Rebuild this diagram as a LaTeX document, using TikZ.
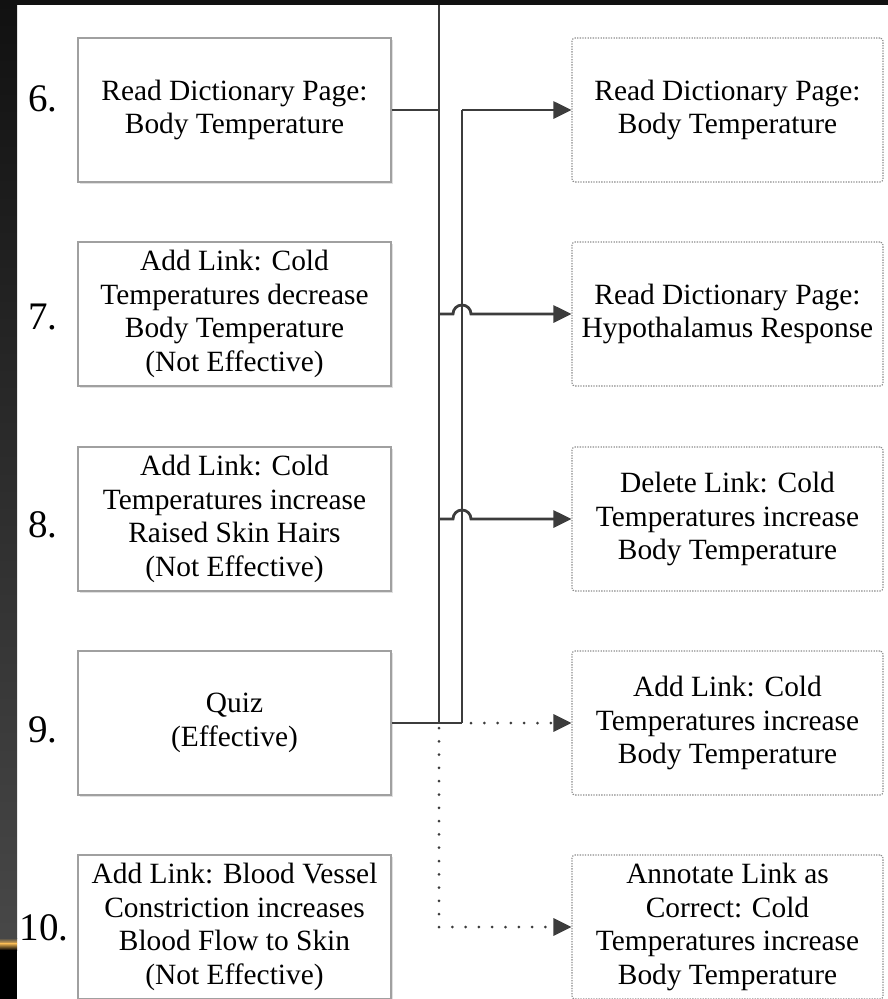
\documentclass[tikz,border=0pt]{standalone}
\usepackage{fontspec}
\setmainfont{Liberation Serif}
\usetikzlibrary{arrows.meta,shadows}
\definecolor{linec}{HTML}{3C3C3C}
\definecolor{boxc}{HTML}{A0A0A0}
\definecolor{dotc}{HTML}{8C8C8C}
\definecolor{barc}{HTML}{111111}
\definecolor{glow}{HTML}{E8B050}
\begin{document}
\begin{tikzpicture}[x=1pt,y=-1pt,
  txt/.style={font=\fontsize{29.4}{33.5}\selectfont, align=center, inner sep=0pt},
  lbox/.style={txt, draw=boxc, line width=1.4pt, fill=white,
    minimum width=313pt, minimum height=144pt,
    drop shadow={shadow xshift=2pt, shadow yshift=-2pt, fill=black!12, opacity=1}},
  rbox/.style={txt, draw=dotc, line width=1.1pt, dash pattern=on 1.3pt off 1.3pt,
    rounded corners=3pt, minimum width=311pt, minimum height=144pt},
  num/.style={font=\fontsize{39}{40}\selectfont, inner sep=0pt},
  conn/.style={draw=linec, line width=2.8pt},
  arr/.style={conn, -{Triangle[length=18pt,width=17pt]}},
  dconn/.style={draw=linec, line width=3pt, line cap=round,
    dash pattern=on 0pt off 13.3pt},
  darr/.style={dconn, -{Triangle[length=18pt,width=17pt,line cap=butt]}}
]
\useasboundingbox (0,0) rectangle (888,999);
\fill[white] (0,0) rectangle (888,999);
% left dark strip and top bar
\shade[top color=barc, bottom color=black!72] (0,0) rectangle (17,938);
\shade[top color=black!72, bottom color=glow] (0,938) rectangle (17,943.5);
\shade[top color=glow, bottom color=black] (0,943.5) rectangle (17,950);
\fill[black] (0,950) rectangle (17,999);

% left boxes
\node[lbox] (L6) at (234.5,110) {Read Dictionary Page:\\Body Temperature};
\node[lbox] (L7) at (234.5,314) {Add Link: Cold\\Temperatures decrease\\Body Temperature\\(Not Effective)};
\node[lbox] (L8) at (234.5,519) {Add Link: Cold\\Temperatures increase\\Raised Skin Hairs\\(Not Effective)};
\node[lbox] (L9) at (234.5,723) {Quiz\\(Effective)};
\node[lbox] (L10) at (234.5,927) {Add Link: Blood Vessel\\Constriction increases\\Blood Flow to Skin\\(Not Effective)};

% right boxes
\node[rbox] (R6) at (727.5,110) {Read Dictionary Page:\\Body Temperature};
\node[rbox] (R7) at (727.5,314) {Read Dictionary Page:\\Hypothalamus Response};
\node[rbox] (R8) at (727.5,519) {Delete Link: Cold\\Temperatures increase\\Body Temperature};
\node[rbox] (R9) at (727.5,723) {Add Link: Cold\\Temperatures increase\\Body Temperature};
\node[rbox] (R10) at (727.5,927) {Annotate Link as\\Correct: Cold\\Temperatures increase\\Body Temperature};

% numbers
\node[num] (N6) at (43,99) {6.};
\node[num] (N7) at (43,317) {7.};
\node[num] (N8) at (43,525) {8.};
\node[num] (N9) at (43,730) {9.};
\node[num] (N10) at (44,928) {10.};

% junctions
\coordinate (T0) at (439,0);
\coordinate (J6) at (439,110);
\coordinate (J7) at (439,314);
\coordinate (J8) at (439,519);
\coordinate (J9) at (439,723);
\coordinate (K6) at (462,110);
\coordinate (K9) at (462,723);
\coordinate (D10) at (439,927);

% solid connectors
\draw[conn] (T0) -- (J9);
\draw[conn] (K6) -- (K9);
\draw[conn] (L6.east) -- (J6);
\draw[conn] (L9.east) -- (K9);
\draw[arr] (K6) -- (R6.west);
\draw[arr] (J7) -- ++(14,0) arc[start angle=180, end angle=0, radius=9pt] -- (R7.west);
\draw[arr] (J8) -- ++(14,0) arc[start angle=180, end angle=0, radius=9pt] -- (R8.west);

% dotted connectors
\draw[dconn, dash phase=8.3pt] (J9) -- (D10);
\draw[darr] (D10) -- (R10.west);
\draw[darr, dash phase=4.3pt] (K9) -- (R9.west);

\fill[barc] (0,0) rectangle (888,5);
\end{tikzpicture}
\end{document}
